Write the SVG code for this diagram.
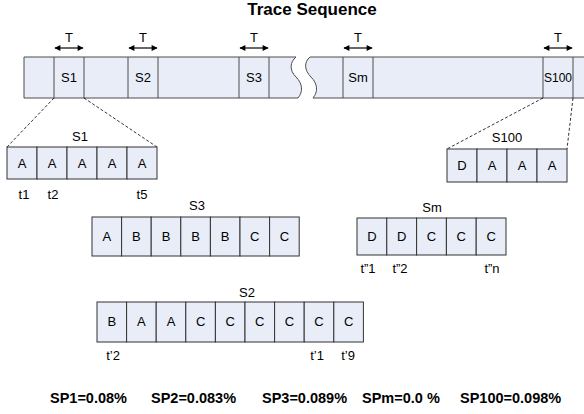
<svg xmlns="http://www.w3.org/2000/svg" width="584" height="414" viewBox="0 0 584 414">
<defs>
<style>
text{font-family:"Liberation Sans",Arial,sans-serif;fill:#000}
.t{font-size:13px;text-anchor:middle}
.title{font-size:17px;font-weight:bold;text-anchor:middle}
.sp{font-size:14.5px;font-weight:bold}
.strip{fill:#e8edf7;stroke:#4d4d4d;stroke-width:1}
.cell{fill:#e8edf7;stroke:#333;stroke-width:1}
.div{stroke:#4d4d4d;stroke-width:1;fill:none}
.dash{stroke:#000;stroke-width:0.8;stroke-dasharray:3,2;fill:none}
.arr{stroke:#000;stroke-width:1.2;fill:none;marker-start:url(#ah);marker-end:url(#ah)}
</style>
<marker id="ah" viewBox="0 0 10 10" refX="9" refY="5" markerWidth="8" markerHeight="6" markerUnits="userSpaceOnUse" orient="auto-start-reverse">
<path d="M0,0 L10,5 L0,10 Z" fill="#000"/>
</marker>
</defs>
<rect width="584" height="414" fill="#fff"/>
<text class="title" x="312" y="15">Trace Sequence</text>

<g id="trace">
<path class="strip" d="M24,57 L296,57 C290,62 289,70 296,77 C303,84 303,92 298,98 L24,98 Z"/>
<path class="strip" d="M310,57 L590,57 L590,98 L313,98 C318,92 318,84 311,77 C304,70 304,62 310,57 Z"/>
<path class="div" d="M54,57V98M84,57V98M128,57V98M158,57V98M239,57V98M269,57V98M343,57V98M373,57V98M543,57V98M573,57V98"/>
<text class="t" x="69" y="82">S1</text>
<text class="t" x="143" y="82">S2</text>
<text class="t" x="254" y="82">S3</text>
<text class="t" x="358" y="82">Sm</text>
<text class="t" x="558" y="82" style="font-size:12px">S100</text>
<text class="t" x="69" y="42">T</text>
<text class="t" x="143" y="42">T</text>
<text class="t" x="254" y="42">T</text>
<text class="t" x="358" y="42">T</text>
<text class="t" x="558" y="42">T</text>
</g>

<g id="connectors">
<line class="arr" x1="55" y1="48" x2="83" y2="48"/>
<line class="arr" x1="129" y1="48" x2="157" y2="48"/>
<line class="arr" x1="240" y1="48" x2="268" y2="48"/>
<line class="arr" x1="344" y1="48" x2="372" y2="48"/>
<line class="arr" x1="544" y1="48" x2="572" y2="48"/>
<line class="dash" x1="54" y1="98" x2="7" y2="147"/>
<line class="dash" x1="84" y1="98" x2="157" y2="147"/>
<line class="dash" x1="543" y1="98" x2="447" y2="149"/>
<line class="dash" x1="573" y1="98" x2="567" y2="149"/>
</g>

<g id="S1">
<rect class="cell" x="7" y="147" width="30" height="32"/>
<rect class="cell" x="37" y="147" width="30" height="32"/>
<rect class="cell" x="67" y="147" width="30" height="32"/>
<rect class="cell" x="97" y="147" width="30" height="32"/>
<rect class="cell" x="127" y="147" width="30" height="32"/>
<text class="t" x="80" y="141">S1</text>
<text class="t" x="22" y="168">A</text>
<text class="t" x="52" y="168">A</text>
<text class="t" x="82" y="168">A</text>
<text class="t" x="112" y="168">A</text>
<text class="t" x="142" y="168">A</text>
<text class="t" x="24" y="199">t1</text>
<text class="t" x="53" y="199">t2</text>
<text class="t" x="142" y="199">t5</text>
</g>

<g id="S100">
<rect class="cell" x="447" y="149" width="30" height="33"/>
<rect class="cell" x="477" y="149" width="30" height="33"/>
<rect class="cell" x="507" y="149" width="30" height="33"/>
<rect class="cell" x="537" y="149" width="30" height="33"/>
<text class="t" x="507" y="142">S100</text>
<text class="t" x="462" y="170">D</text>
<text class="t" x="492" y="170">A</text>
<text class="t" x="522" y="170">A</text>
<text class="t" x="552" y="170">A</text>
</g>

<g id="S3">
<rect class="cell" x="92" y="217" width="29.6" height="39"/>
<rect class="cell" x="121.6" y="217" width="29.6" height="39"/>
<rect class="cell" x="151.2" y="217" width="29.6" height="39"/>
<rect class="cell" x="180.8" y="217" width="29.6" height="39"/>
<rect class="cell" x="210.4" y="217" width="29.6" height="39"/>
<rect class="cell" x="240" y="217" width="29.6" height="39"/>
<rect class="cell" x="269.6" y="217" width="29.6" height="39"/>
<text class="t" x="197" y="210">S3</text>
<text class="t" x="106.8" y="241">A</text>
<text class="t" x="136.4" y="241">B</text>
<text class="t" x="166" y="241">B</text>
<text class="t" x="195.6" y="241">B</text>
<text class="t" x="225.2" y="241">B</text>
<text class="t" x="254.8" y="241">C</text>
<text class="t" x="284.4" y="241">C</text>
</g>

<g id="Sm">
<rect class="cell" x="357" y="218" width="29.8" height="37"/>
<rect class="cell" x="386.8" y="218" width="29.8" height="37"/>
<rect class="cell" x="416.6" y="218" width="29.8" height="37"/>
<rect class="cell" x="446.4" y="218" width="29.8" height="37"/>
<rect class="cell" x="476.2" y="218" width="29.8" height="37"/>
<text class="t" x="432" y="212">Sm</text>
<text class="t" x="371.9" y="241">D</text>
<text class="t" x="401.7" y="241">D</text>
<text class="t" x="431.5" y="241">C</text>
<text class="t" x="461.3" y="241">C</text>
<text class="t" x="491.1" y="241">C</text>
<text class="t" x="368" y="273">t”1</text>
<text class="t" x="400" y="273">t”2</text>
<text class="t" x="492" y="273">t”n</text>
</g>

<g id="S2">
<rect class="cell" x="97" y="302" width="29.6" height="40"/>
<rect class="cell" x="126.6" y="302" width="29.6" height="40"/>
<rect class="cell" x="156.2" y="302" width="29.6" height="40"/>
<rect class="cell" x="185.8" y="302" width="29.6" height="40"/>
<rect class="cell" x="215.4" y="302" width="29.6" height="40"/>
<rect class="cell" x="245" y="302" width="29.6" height="40"/>
<rect class="cell" x="274.6" y="302" width="29.6" height="40"/>
<rect class="cell" x="304.2" y="302" width="29.6" height="40"/>
<rect class="cell" x="333.8" y="302" width="29.6" height="40"/>
<text class="t" x="247" y="297">S2</text>
<text class="t" x="111.8" y="326">B</text>
<text class="t" x="141.4" y="326">A</text>
<text class="t" x="171" y="326">A</text>
<text class="t" x="200.6" y="326">C</text>
<text class="t" x="230.2" y="326">C</text>
<text class="t" x="259.8" y="326">C</text>
<text class="t" x="289.4" y="326">C</text>
<text class="t" x="319" y="326">C</text>
<text class="t" x="348.6" y="326">C</text>
<text class="t" x="113" y="360">t’2</text>
<text class="t" x="317" y="360">t’1</text>
<text class="t" x="348" y="360">t’9</text>
</g>

<g id="results">
<text class="sp" x="50" y="403">SP1=0.08%</text>
<text class="sp" x="151" y="403">SP2=0.083%</text>
<text class="sp" x="262" y="403">SP3=0.089%</text>
<text class="sp" x="362" y="403">SPm=0.0 %</text>
<text class="sp" x="460" y="403">SP100=0.098%</text>
</g>
</svg>
